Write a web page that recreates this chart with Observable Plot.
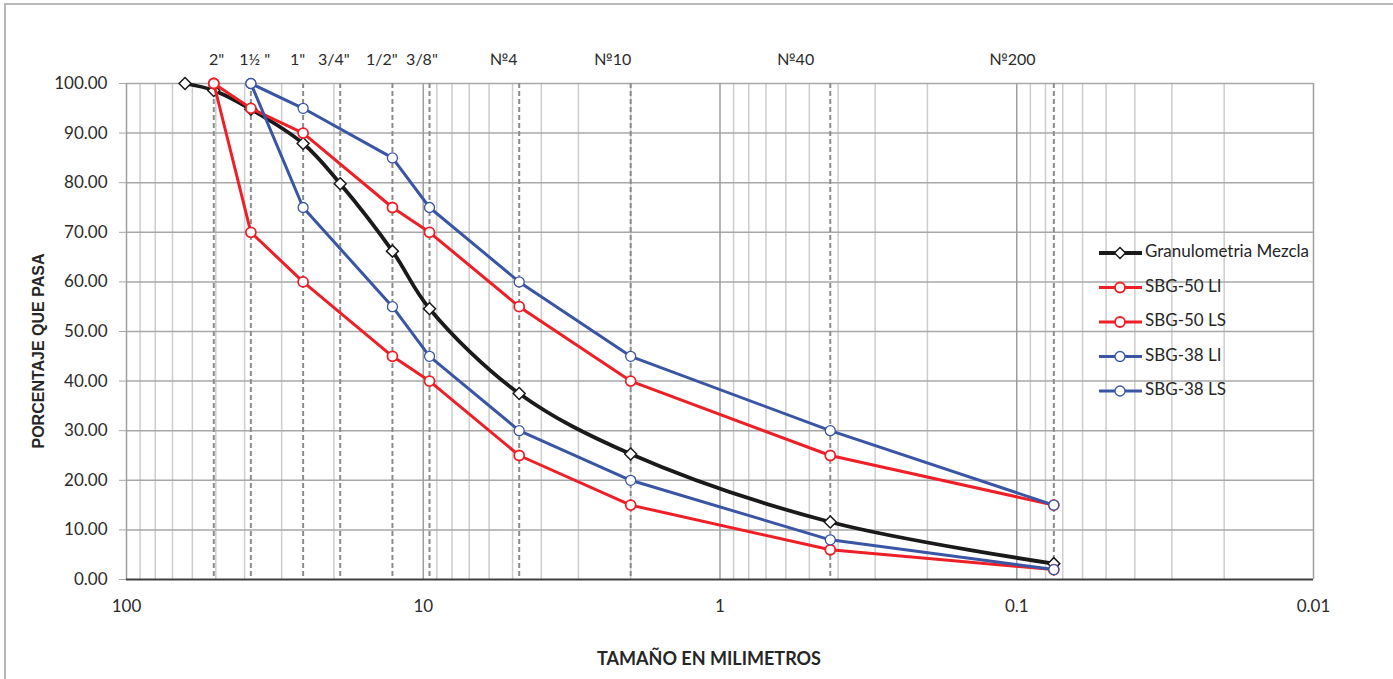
<!DOCTYPE html>
<html><head><meta charset="utf-8">
<script src="https://cdn.jsdelivr.net/npm/d3@7"></script>
<script src="https://cdn.jsdelivr.net/npm/@observablehq/plot@0.6"></script>
<style>
html,body{margin:0;padding:0;background:#fff;}
#chart{width:1393px;height:679px;overflow:hidden;}
</style></head><body><div id="chart"></div>
<script>
// ---- data ----
const sieveLabels = ['2"', '1½ "', '1"', '3/4"', '1/2"', '3/8"', '№4', '№10', '№40', '№200'];
const sieveMm = [50.8, 38.1, 25.4, 19.05, 12.7, 9.525, 4.75, 2.0, 0.425, 0.075];
const sieveLabelMm = [49.7, 37.0, 26.5, 20.0, 13.8, 10.1, 5.36, 2.30, 0.556, 0.1035];

const xTicks = [100, 10, 1, 0.1, 0.01];
const yTicks = [0, 10, 20, 30, 40, 50, 60, 70, 80, 90, 100];

const mezclaMm = [63.5, 50.8, 38.1, 25.4, 19.05, 12.7, 9.525, 4.75, 2.0, 0.425, 0.075];
const mezclaPct = [100, 98.6, 94.8, 87.9, 79.8, 66.2, 54.6, 37.5, 25.3, 11.6, 3.2];

const sbg50Mm = [50.8, 38.1, 25.4, 12.7, 9.525, 4.75, 2.0, 0.425, 0.075];
const sbg50LI = [100, 70, 60, 45, 40, 25, 15, 6, 2];
const sbg50LS = [100, 95, 90, 75, 70, 55, 40, 25, 15];

const sbg38Mm = [38.1, 25.4, 12.7, 9.525, 4.75, 2.0, 0.425, 0.075];
const sbg38LI = [100, 75, 55, 45, 30, 20, 8, 2];
const sbg38LS = [100, 95, 85, 75, 60, 45, 30, 15];

const seriesNames = ["Granulometria Mezcla", "SBG-50 LI", "SBG-50 LS", "SBG-38 LI", "SBG-38 LS"];

// ---- build ----
const RED = "#ee1f26", BLUE = "#3b55a5", BLACK = "#1a1a1a";
const toRows = (mm, pct, name) => mm.map((m, i) => ({mm: m, pct: pct[i], name}));
const mezcla = toRows(mezclaMm, mezclaPct, seriesNames[0]);
const s50li = toRows(sbg50Mm, sbg50LI, seriesNames[1]);
const s50ls = toRows(sbg50Mm, sbg50LS, seriesNames[2]);
const s38li = toRows(sbg38Mm, sbg38LI, seriesNames[3]);
const s38ls = toRows(sbg38Mm, sbg38LS, seriesNames[4]);

const decades = [100, 10, 1, 0.1, 0.01];
const minorGrid = [];
for (const d of [10, 1, 0.1, 0.01]) for (let k = 2; k <= 9; k++) minorGrid.push(+(k * d).toPrecision(3));

const lineOf = (data, color, extra = {}) => Plot.line(data, {x: "mm", y: "pct", stroke: color, strokeWidth: 3, ...extra});
const dotsOf = (data, color, sw) => Plot.dot(data, {x: "mm", y: "pct", r: 5, fill: "white", stroke: color, strokeWidth: sw});

const plot = Plot.plot({
  width: 1393, height: 679,
  marginLeft: 126, marginRight: 80, marginTop: 83, marginBottom: 100,
  style: {fontFamily: "Lato, sans-serif", fontSize: "17px", color: "#333", background: "transparent"},
  x: {type: "log", domain: [100, 0.01], axis: null},
  y: {domain: [0, 100], axis: null},
  marks: [
    Plot.ruleX(minorGrid, {stroke: "#cdcdcd", strokeWidth: 1.5}),
    Plot.ruleY(yTicks.filter(d => d > 0), {stroke: "#a8a8a8", strokeWidth: 1.5}),
    Plot.ruleX(decades, {stroke: "#9e9e9e", strokeWidth: 1.5}),
    Plot.ruleX(sieveMm, {stroke: "#8c8c8c", strokeWidth: 2, strokeDasharray: "5,3"}),
    Plot.axisY({ticks: yTicks, tickSize: 7, tickPadding: 12, tickFormat: d3.format(".2f"), label: null, stroke: "#a8a8a8", fill: "#2b2b2b", fontSize: 17}),
    Plot.ruleY([0], {stroke: "#404040", strokeWidth: 2}),
    Plot.axisX({ticks: xTicks, tickSize: 0, tickPadding: 20, tickFormat: d => String(d), label: null, fill: "#2b2b2b", fontSize: 17}),
    Plot.text(sieveLabels, {x: (d, i) => sieveLabelMm[i], frameAnchor: "top", dy: -30, text: d => d, fill: "#2b2b2b", fontSize: 16}),
    lineOf(mezcla, BLACK, {strokeWidth: 3.8, curve: "catmull-rom"}),
    Plot.dot(mezcla, {x: "mm", y: "pct", symbol: "diamond2", r: 5.4, fill: "white", stroke: BLACK, strokeWidth: 1.5}),
    lineOf(s50li, RED), dotsOf(s50li, RED, 1.8),
    lineOf(s50ls, RED), dotsOf(s50ls, RED, 1.8),
    lineOf(s38li, BLUE), dotsOf(s38li, BLUE, 1.3),
    lineOf(s38ls, BLUE), dotsOf(s38ls, BLUE, 1.3)
  ]
});

const svg = d3.select(plot);
// chart border
svg.insert("rect", ":first-child").attr("x", 5).attr("y", 4).attr("width", 1500).attr("height", 800)
  .attr("fill", "#fff").attr("stroke", "#b8b8b8").attr("stroke-width", 2);

// axis titles
svg.append("text").attr("transform", "translate(40,351) rotate(-90)")
  .attr("text-anchor", "middle").attr("dominant-baseline", "middle")
  .style("font-family", "'Liberation Sans', Arial, sans-serif").style("font-weight", "bold").style("font-size", "16px")
  .attr("fill", "#262626").text("PORCENTAJE QUE PASA");
svg.append("text").attr("x", 709).attr("y", 660)
  .attr("text-anchor", "middle").attr("dominant-baseline", "middle")
  .style("font-family", "Lato, sans-serif").style("font-weight", "bold").style("font-size", "18px")
  .attr("fill", "#262626").text("TAMAÑO EN MILIMETROS");

// legend
const legendStyles = [
  {color: BLACK, sym: "diamond", sw: 3.8},
  {color: RED, sym: "circle", sw: 3},
  {color: RED, sym: "circle", sw: 3},
  {color: BLUE, sym: "circle", sw: 3},
  {color: BLUE, sym: "circle", sw: 3}
];
const legendY = [253, 287.5, 322, 356.5, 391];
const lg = svg.append("g").attr("text-anchor", "start");
seriesNames.forEach((name, i) => {
  const st = legendStyles[i], y = legendY[i];
  lg.append("line").attr("x1", 1099).attr("x2", 1142).attr("y1", y).attr("y2", y)
    .attr("stroke", st.color).attr("stroke-width", st.sw);
  if (st.sym === "circle") {
    lg.append("circle").attr("cx", 1120).attr("cy", y).attr("r", 5)
      .attr("fill", "white").attr("stroke", st.color).attr("stroke-width", st.color === RED ? 1.8 : 1.3);
  } else {
    lg.append("path").attr("d", `M1120,${y - 5.5}L1125.5,${y}L1120,${y + 5.5}L1114.5,${y}Z`)
      .attr("fill", "white").attr("stroke", st.color).attr("stroke-width", 1.5);
  }
  lg.append("text").attr("x", 1145).attr("y", y).attr("dominant-baseline", "middle").attr("text-anchor", "start")
    .style("font-family", "Lato, sans-serif").style("font-size", "17px").attr("fill", "#262626").text(name);
});

document.getElementById("chart").appendChild(plot);
</script>
</body></html>
